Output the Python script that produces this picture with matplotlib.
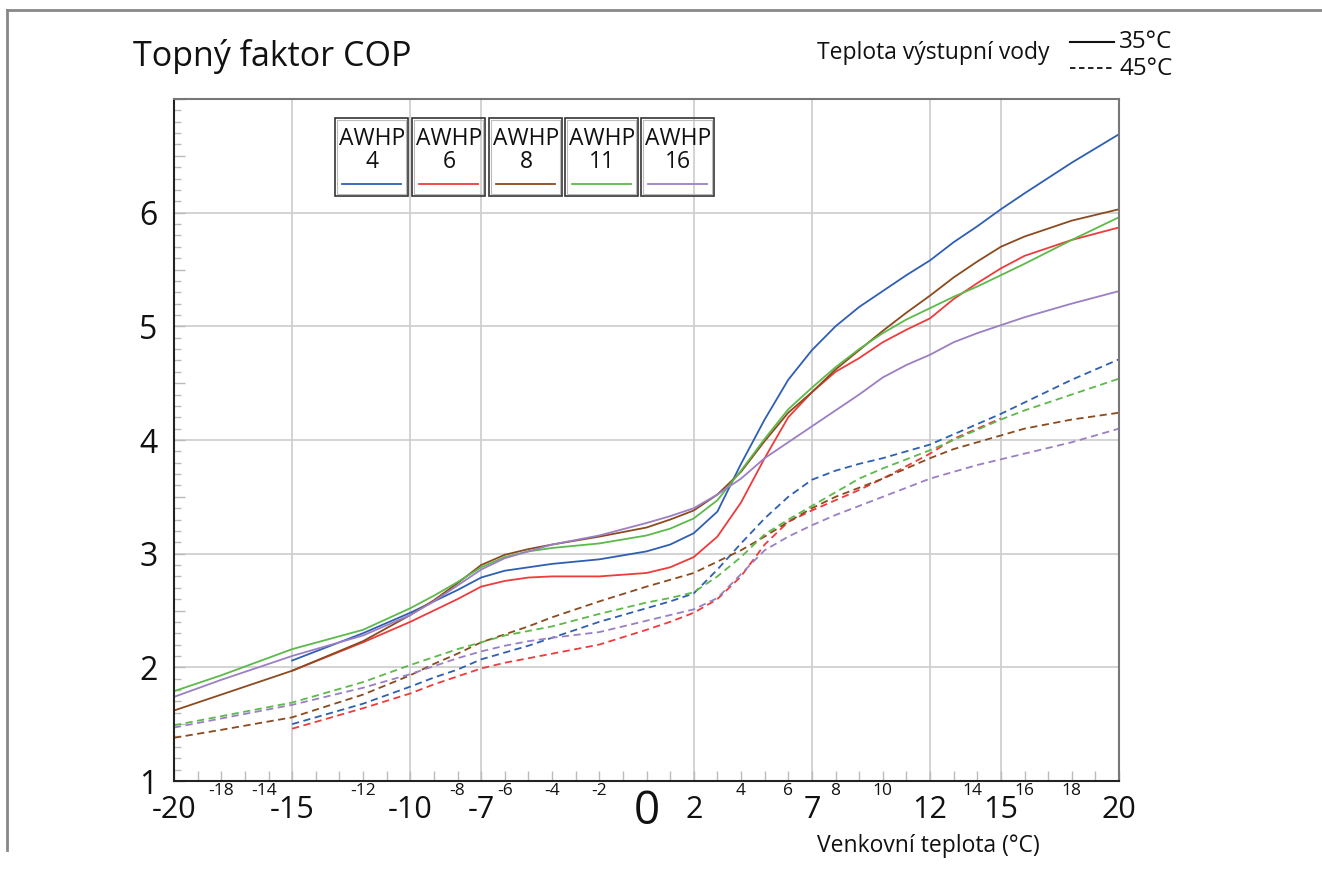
import matplotlib
matplotlib.use('Agg')
import matplotlib.pyplot as plt
from matplotlib.patches import Rectangle
from matplotlib.lines import Line2D
from matplotlib.ticker import MultipleLocator, FuncFormatter
import matplotlib.transforms as mtransforms

plt.rcParams['font.family'] = ['Open Sans', 'DejaVu Sans']

# outdoor temperature (deg C)
TEMPS = [-20, -18, -15, -12, -10, -9, -8, -7, -6, -5, -4, -2, 0, 1, 2, 3, 4, 5, 6, 7,
         8, 9, 10, 11, 12, 13, 14, 15, 16, 18, 20]
TEMPS_15 = TEMPS[2:]          # units 4 and 6 start at -15
TEMPS_15_15 = TEMPS[2:28]     # AWHP 6 at 45 C ends at 15

# COP, outlet water 35 C
COP35_4 = [2.06, 2.30, 2.48, 2.58, 2.68, 2.79, 2.85, 2.88, 2.91, 2.95, 3.02, 3.08, 3.18, 3.37,
           3.79, 4.18, 4.53, 4.79, 5.00, 5.17, 5.31, 5.45, 5.58, 5.74, 5.88, 6.03, 6.17, 6.44, 6.69]
COP35_6 = [1.97, 2.22, 2.40, 2.50, 2.60, 2.71, 2.76, 2.79, 2.80, 2.80, 2.83, 2.88, 2.97, 3.15,
           3.45, 3.84, 4.20, 4.42, 4.60, 4.72, 4.86, 4.97, 5.07, 5.24, 5.38, 5.51, 5.62, 5.76, 5.87]
COP35_8 = [1.62, 1.76, 1.97, 2.23, 2.46, 2.59, 2.74, 2.90, 2.99, 3.04, 3.08, 3.15, 3.23, 3.30,
           3.38, 3.52, 3.72, 3.99, 4.24, 4.42, 4.62, 4.79, 4.96, 5.12, 5.27, 5.43, 5.57, 5.70,
           5.79, 5.93, 6.03]
COP35_11 = [1.79, 1.93, 2.16, 2.33, 2.52, 2.63, 2.75, 2.88, 2.97, 3.02, 3.05, 3.09, 3.16, 3.22,
            3.31, 3.47, 3.73, 4.01, 4.27, 4.46, 4.64, 4.80, 4.94, 5.06, 5.16, 5.26, 5.35, 5.45,
            5.55, 5.76, 5.96]
COP35_16 = [1.74, 1.89, 2.10, 2.28, 2.46, 2.58, 2.72, 2.86, 2.96, 3.02, 3.08, 3.16, 3.27, 3.33,
            3.40, 3.52, 3.66, 3.84, 3.98, 4.12, 4.26, 4.40, 4.55, 4.66, 4.75, 4.86, 4.94, 5.01,
            5.08, 5.20, 5.31]

# COP, outlet water 45 C
COP45_4 = [1.50, 1.68, 1.83, 1.91, 1.98, 2.07, 2.13, 2.19, 2.26, 2.40, 2.52, 2.58, 2.65, 2.86,
           3.09, 3.31, 3.50, 3.65, 3.73, 3.79, 3.84, 3.90, 3.96, 4.05, 4.14, 4.23, 4.33, 4.53, 4.71]
COP45_6 = [1.46, 1.64, 1.77, 1.85, 1.92, 1.99, 2.04, 2.08, 2.12, 2.20, 2.33, 2.40, 2.48, 2.60,
           2.80, 3.08, 3.28, 3.38, 3.47, 3.56, 3.66, 3.77, 3.88, 4.01, 4.10, 4.19]
COP45_8 = [1.38, 1.45, 1.56, 1.76, 1.93, 2.03, 2.12, 2.22, 2.29, 2.36, 2.44, 2.58, 2.71, 2.77,
           2.83, 2.93, 3.03, 3.15, 3.28, 3.40, 3.50, 3.58, 3.66, 3.75, 3.84, 3.92, 3.98, 4.04,
           4.10, 4.18, 4.24]
COP45_11 = [1.49, 1.57, 1.69, 1.87, 2.02, 2.09, 2.16, 2.22, 2.28, 2.32, 2.36, 2.47, 2.57, 2.61,
            2.66, 2.80, 2.97, 3.17, 3.30, 3.42, 3.54, 3.66, 3.75, 3.83, 3.91, 4.00, 4.09, 4.18,
            4.26, 4.40, 4.54]
COP45_16 = [1.47, 1.55, 1.67, 1.82, 1.94, 2.01, 2.08, 2.14, 2.19, 2.23, 2.26, 2.31, 2.41, 2.46,
            2.51, 2.61, 2.82, 3.03, 3.15, 3.25, 3.34, 3.42, 3.50, 3.58, 3.66, 3.72, 3.78, 3.83,
            3.88, 3.98, 4.10]

MODELS = ['4', '6', '8', '11', '16']
COLORS = ['#2f5fb3', '#ee3b3b', '#8c4a1f', '#5cb94a', '#9b7fc4']

BIG_XLABELS = [-20, -15, -10, -7, 2, 7, 12, 15, 20]
SMALL_XLABELS = [(-18, '-18'), (-16.2, '-14'), (-12, '-12'), (-8, '-8'), (-6, '-6'), (-4, '-4'),
                 (-2, '-2'), (4, '4'), (6, '6'), (8, '8'), (10, '10'), (13.8, '14'), (16, '16'),
                 (18, '18')]
Y_LABELS = [1, 2, 3, 4, 5, 6]
GRID_X = [-15, -10, -7, 2, 7, 12, 15]
GRID_Y = [2, 3, 4, 5, 6]

W, H = 1322, 873
fig = plt.figure(figsize=(W / 100, H / 100), dpi=100)


def px(x, y):
    return x / W, 1 - y / H


ax = fig.add_axes([174 / W, 1 - 781 / H, 945 / W, 682 / H])
ax.set_xlim(-20, 20)
ax.set_ylim(1, 7)

for g in GRID_X:
    ax.axvline(g, color='#cccccc', lw=1.2, zorder=0)
for g in GRID_Y:
    ax.axhline(g, color='#cccccc', lw=1.2, zorder=0)

series35 = [(TEMPS_15, COP35_4), (TEMPS_15, COP35_6), (TEMPS, COP35_8), (TEMPS, COP35_11), (TEMPS, COP35_16)]
series45 = [(TEMPS_15, COP45_4), (TEMPS_15_15, COP45_6), (TEMPS, COP45_8), (TEMPS, COP45_11), (TEMPS, COP45_16)]
for (t, c), col in zip(series35, COLORS):
    ax.plot(t, c, color=col, lw=1.3, solid_joinstyle='round')
for (t, c), col in zip(series45, COLORS):
    ax.plot(t, c, color=col, lw=1.3, dashes=(4, 2.5))

# ticks
ax.xaxis.set_major_locator(MultipleLocator(1))
ax.tick_params(axis='x', which='major', direction='in', length=7, width=1, color='#bbbbbb',
               labelbottom=False)
ax.yaxis.set_major_locator(MultipleLocator(0.5))
ax.yaxis.set_minor_locator(MultipleLocator(0.1))
ax.yaxis.set_major_formatter(
    FuncFormatter(lambda v, p: '%d' % round(v) if abs(v - round(v)) < 1e-6 and round(v) in Y_LABELS else ''))
ax.tick_params(axis='y', which='major', direction='in', length=8, width=1, color='#bbbbbb',
               labelsize=23, pad=12, labelcolor='#111111')
ax.tick_params(axis='y', which='minor', direction='in', length=5, width=1, color='#bbbbbb')

trans = mtransforms.blended_transform_factory(ax.transData, ax.transAxes)
for v in BIG_XLABELS:
    ax.text(v, -0.042, str(v), transform=trans, ha='center', va='center', fontsize=22,
            color='#111111')
ax.text(0, -0.045, '0', transform=trans, ha='center', va='center', fontsize=33, color='#111111')
for v, s in SMALL_XLABELS:
    ax.text(v, -0.015, s, transform=trans, ha='center', va='center', fontsize=12.5,
            color='#111111')

for side in ['left', 'bottom']:
    ax.spines[side].set_color('#222222')
    ax.spines[side].set_linewidth(1.5)
for side in ['top', 'right']:
    ax.spines[side].set_color('#777777')
    ax.spines[side].set_linewidth(1.5)

# texts
fig.text(*px(133, 56), 'Topný faktor COP', fontsize=24.5, va='center', ha='left', color='#111111')
fig.text(*px(817, 53), 'Teplota výstupní vody', fontsize=16.5, va='center', ha='left', color='#111111')
fig.text(*px(1119, 42), '35°C', fontsize=17.5, va='center', ha='left', color='#111111')
fig.text(*px(1119, 69), '45°C', fontsize=17.5, va='center', ha='left', color='#111111')
fig.add_artist(Line2D([1070 / W, 1114 / W], [1 - 42 / H, 1 - 42 / H], color='#111111', lw=1.5))
fig.add_artist(Line2D([1070 / W, 1114 / W], [1 - 68 / H, 1 - 68 / H], color='#111111', lw=1.3,
                      dashes=(3, 2)))
fig.text(*px(928, 846), 'Venkovní teplota (°C)', fontsize=16.5, va='center', ha='center', color='#111111')

# model legend boxes
box_left = [335, 412, 489, 565, 641]
for x0, m, col in zip(box_left, MODELS, COLORS):
    fig.add_artist(Rectangle(px(x0, 196), 73 / W, 78 / H, fill=False, edgecolor='#333333', lw=1.2))
    fig.add_artist(Rectangle(px(x0 + 2, 194), 69 / W, 74 / H, fill=False, edgecolor='#bbbbbb', lw=0.8))
    fig.text(*px(x0 + 37, 139), 'AWHP', fontsize=16.5, ha='center', va='center', color='#111111')
    fig.text(*px(x0 + 37, 162), m, fontsize=16.5, ha='center', va='center', color='#111111')
    fig.add_artist(Line2D([(x0 + 7) / W, (x0 + 66) / W], [1 - 184 / H, 1 - 184 / H], color=col, lw=1.3))

# outer frame
fig.add_artist(Line2D([7 / W, 1], [1 - 10 / H, 1 - 10 / H], color='#888888', lw=2))
fig.add_artist(Line2D([7 / W, 7 / W], [1 - 10 / H, 1 - 850 / H], color='#888888', lw=2))

fig.savefig('out.png', dpi=100)
